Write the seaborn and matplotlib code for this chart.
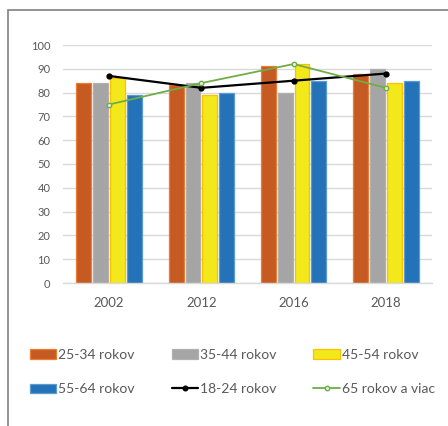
import matplotlib
matplotlib.use("Agg")
import matplotlib.pyplot as plt
import seaborn as sns
import pandas as pd
from matplotlib.patches import Patch, Rectangle
from matplotlib.lines import Line2D

years = ["2002", "2012", "2016", "2018"]
bar_groups = ["25-34 rokov", "35-44 rokov", "45-54 rokov", "55-64 rokov"]
v_25_34 = [84, 83, 91, 88]
v_35_44 = [84, 84, 80, 90]
v_45_54 = [86, 79, 92, 84]
v_55_64 = [79, 80, 85, 85]
v_18_24 = [87, 82, 85, 88]
v_65 = [75, 84, 92, 82]
line_groups = ["18-24 rokov", "65 rokov a viac"]
y_ticks = [0, 10, 20, 30, 40, 50, 60, 70, 80, 90, 100]

fills = ["#C55A22", "#A5A5A5", "#F3E81C", "#2472B7"]
edges = ["#ED7D31", "#B0B0B0", "#FFC000", "#5B9BD5"]
black = "#000000"
green = "#70AD47"

sns.set_theme(style="white")
plt.rcParams["font.family"] = ["Lato", "DejaVu Sans"]

df = pd.DataFrame({
    "rok": years * 4,
    "skupina": sum([[g] * 4 for g in bar_groups], []),
    "hodnota": v_25_34 + v_35_44 + v_45_54 + v_55_64,
})

fig = plt.figure(figsize=(4.48, 4.26), dpi=100)
ax = fig.add_axes([63 / 448, 1 - 283 / 426, (432 - 63) / 448, (283 - 45) / 426])

sns.barplot(data=df, x="rok", y="hodnota", hue="skupina", order=years,
            hue_order=bar_groups, palette=fills, saturation=1, width=0.73,
            gap=0.12, legend=False, ax=ax, zorder=2)
for cont, ec in zip(ax.containers, edges):
    for p in cont:
        p.set_edgecolor(ec)
        p.set_linewidth(0.9)

sns.pointplot(x=years, y=v_18_24, color=black, marker="o", markersize=3.3,
              linewidth=1.6, ax=ax, zorder=4)
sns.pointplot(x=years, y=v_65, color=green, marker="o", markersize=3.2,
              linewidth=1.3, markerfacecolor="#E2F0D9", markeredgecolor=green,
              ax=ax, zorder=5)

ax.set_ylim(0, 100)
ax.set_xlim(-0.5, 3.5)
ax.set_yticks(y_ticks)
ax.yaxis.grid(True, color="#D9D9D9", linewidth=1, zorder=0)
ax.set_axisbelow(True)
for s in ["top", "right", "left"]:
    ax.spines[s].set_visible(False)
ax.spines["bottom"].set_color("#D9D9D9")
ax.spines["bottom"].set_linewidth(1)
ax.set_xlabel("")
ax.set_ylabel("")
ax.tick_params(axis="y", length=0, pad=9, labelsize=8, labelcolor="#595959")
ax.tick_params(axis="x", length=0, pad=10, labelsize=9.5, labelcolor="#595959")

# outer chart frame
fig.patches.append(Rectangle((8 / 448, -0.1), 1.2, 1 - 10 / 426 + 0.1,
                             transform=fig.transFigure, fill=False,
                             edgecolor="#808080", linewidth=1.2))

# legend in reading order: row 1 = 25-34, 35-44, 45-54; row 2 = 55-64, 18-24, 65+
h = {}
for g, f, e in zip(bar_groups, fills, edges):
    h[g] = Patch(facecolor=f, edgecolor=e, linewidth=0.9)
h[line_groups[0]] = Line2D([], [], color=black, linewidth=1.6, marker="o", markersize=3.3)
h[line_groups[1]] = Line2D([], [], color=green, linewidth=1.3, marker="o", markersize=3.2,
                           markerfacecolor="#E2F0D9", markeredgecolor=green)
order = [bar_groups[0], bar_groups[3], bar_groups[1], line_groups[0],
         bar_groups[2], line_groups[1]]
fig.legend([h[k] for k in order], order, ncol=3, loc="upper left",
           bbox_to_anchor=(30 / 448, 1 - 349 / 426), frameon=False,
           fontsize=10, labelcolor="#595959", handlelength=1.9,
           handleheight=0.65, handletextpad=0.15, columnspacing=2.65,
           labelspacing=1.6, borderaxespad=0, borderpad=0)

fig.savefig("out.png", dpi=100)
